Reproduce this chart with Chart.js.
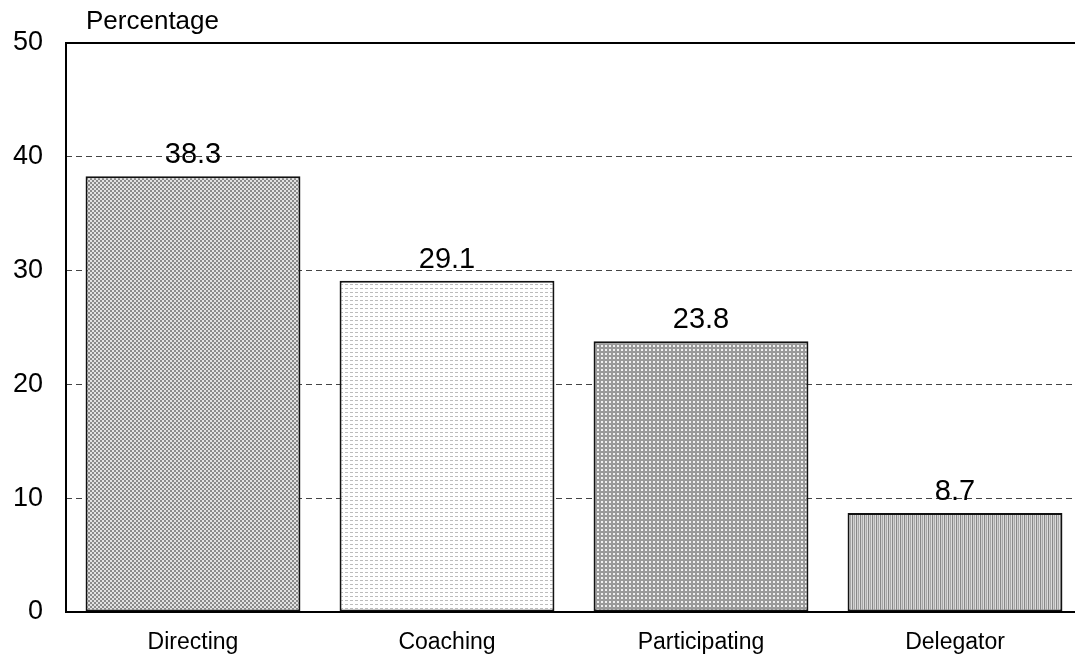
<!DOCTYPE html>
<html>
<head>
<meta charset="utf-8">
<script src="https://cdn.jsdelivr.net/npm/chart.js@4/dist/chart.umd.min.js"></script>
<style>
  html, body { margin: 0; padding: 0; background: #fff; overflow: hidden; }
  #wrap { width: 1082px; height: 660px; }
</style>
</head>
<body>
<div id="wrap"><canvas id="chart"></canvas></div>
<script>
// DATA
const categories = ['Directing', 'Coaching', 'Participating', 'Delegator'];
const values = [38.3, 29.1, 23.8, 8.7];
const yTicks = [0, 10, 20, 30, 40, 50];

const FONT = '"Liberation Sans", Arial, sans-serif';

// PATTERNS
function makePattern(w, h, draw) {
  const c = document.createElement('canvas');
  c.width = w; c.height = h;
  const g = c.getContext('2d');
  draw(g);
  return g.createPattern(c, 'repeat');
}
const patterns = [
  // checker, 2px cells
  makePattern(4, 4, g => {
    g.fillStyle = '#e2e2e2'; g.fillRect(0, 0, 4, 4);
    g.fillStyle = '#8a8a8a'; g.fillRect(0, 0, 2, 2); g.fillRect(2, 2, 2, 2);
  }),
  // light dashes
  makePattern(5, 4, g => {
    g.fillStyle = '#ffffff'; g.fillRect(0, 0, 5, 4);
    g.fillStyle = '#bcbcbc'; g.fillRect(0, 0, 3, 1);
  }),
  // grid
  makePattern(4, 4, g => {
    g.fillStyle = '#9a9a9a'; g.fillRect(0, 0, 4, 4);
    g.fillStyle = '#f0f0f0'; g.fillRect(1, 1, 2, 2);
  }),
  // vertical stripes
  makePattern(4, 1, g => {
    g.fillStyle = '#888'; g.fillRect(0, 0, 1, 1);
    g.fillStyle = '#d0d0d0'; g.fillRect(1, 0, 1, 1);
    g.fillStyle = '#a8a8a8'; g.fillRect(2, 0, 1, 1);
    g.fillStyle = '#dcdcdc'; g.fillRect(3, 0, 1, 1);
  })
];

// extra drawing: title, solid axes, value labels
const extras = {
  id: 'extras',
  afterDraw(chart) {
    const ctx = chart.ctx;
    const a = chart.chartArea;
    ctx.save();
    ctx.strokeStyle = '#000';
    ctx.lineWidth = 2;
    ctx.beginPath();
    ctx.moveTo(a.left, a.top); ctx.lineTo(a.right, a.top);
    ctx.moveTo(a.left, a.top - 1); ctx.lineTo(a.left, a.bottom + 1);
    ctx.moveTo(a.left, a.bottom); ctx.lineTo(a.right, a.bottom);
    ctx.stroke();

    ctx.fillStyle = '#000';
    ctx.font = '26px ' + FONT;
    ctx.textAlign = 'left';
    ctx.textBaseline = 'alphabetic';
    ctx.fillText('Percentage', 86, 29);

    ctx.font = '29px ' + FONT;
    ctx.textAlign = 'center';
    chart.getDatasetMeta(0).data.forEach((bar, i) => {
      ctx.fillText(values[i].toFixed(1), bar.x, bar.y - 13);
    });
    ctx.restore();
  }
};

const ctx = document.getElementById('chart').getContext('2d');
new Chart(ctx, {
  type: 'bar',
  data: {
    labels: categories,
    datasets: [{
      data: values,
      backgroundColor: patterns,
      borderColor: '#111',
      borderWidth: 2,
      borderSkipped: false,
      categoryPercentage: 1,
      barPercentage: 0.846
    }]
  },
  options: {
    responsive: true,
    maintainAspectRatio: false,
    animation: false,
    layout: { padding: { top: 43, right: 0, bottom: 0, left: 0 } },
    plugins: { legend: { display: false }, tooltip: { enabled: false } },
    scales: {
      x: {
        grid: { display: false },
        border: { display: false },
        ticks: { color: '#000', font: { family: FONT, size: 23 }, padding: 9 },
        afterFit: s => { s.height = 48; }
      },
      y: {
        min: 0, max: 50,
        afterBuildTicks: s => { s.ticks = yTicks.map(v => ({ value: v })); },
        grid: { color: '#444', lineWidth: 1, drawTicks: false },
        border: { display: false, dash: [6, 4] },
        ticks: { color: '#000', font: { family: FONT, size: 27 }, padding: 23 },
        afterFit: s => { s.width = 66; }
      }
    }
  },
  plugins: [extras]
});
</script>
</body>
</html>
